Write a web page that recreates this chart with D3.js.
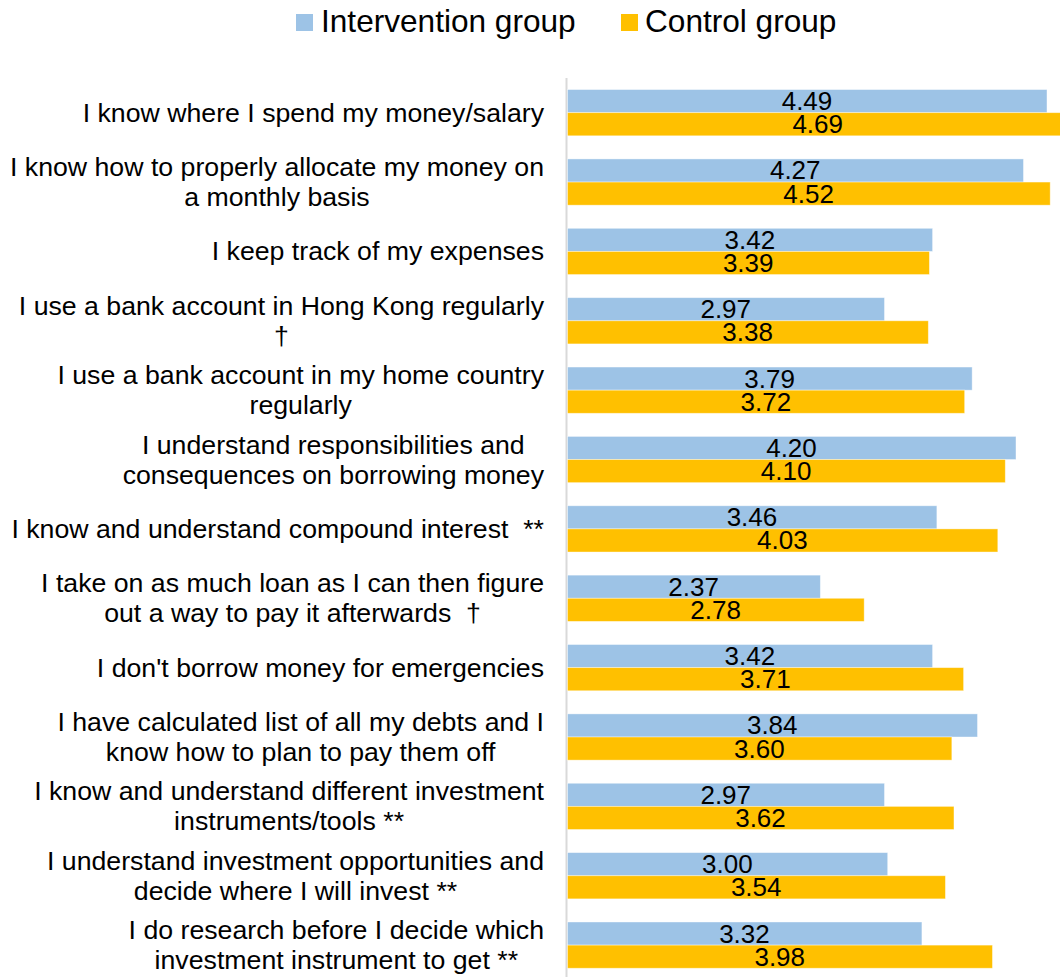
<!DOCTYPE html>
<html>
<head>
<meta charset="utf-8">
<script src="https://cdn.jsdelivr.net/npm/d3@7"></script>
<style>
  html, body { margin: 0; padding: 0; background: #fff; }
  svg { display: block; font-family: "Liberation Sans", Arial, sans-serif; }
  text { white-space: pre; }
</style>
</head>
<body>
<svg id="chart" width="1060" height="977"></svg>
<script>
// Survey statements (each entry holds the wrapped lines of the label)
const categories = [
  ["I know where I spend my money/salary"],
  ["I know how to properly allocate my money on", "a monthly basis"],
  ["I keep track of my expenses"],
  ["I use a bank account in Hong Kong regularly", "\u2020"],
  ["I use a bank account in my home country", "regularly"],
  ["I understand responsibilities and", "consequences on borrowing money"],
  ["I know and understand compound interest  **"],
  ["I take on as much loan as I can then figure", "out a way to pay it afterwards  \u2020"],
  ["I don't borrow money for emergencies"],
  ["I have calculated list of all my debts and I", "know how to plan to pay them off"],
  ["I know and understand different investment", "instruments/tools **"],
  ["I understand investment opportunities and", "decide where I will invest **"],
  ["I do research before I decide which", "investment instrument to get **"]
];

const seriesNames = ["Intervention group", "Control group"];
const seriesColors = ["#9DC3E6", "#FFC000"];

const interventionValues = [4.49, 4.27, 3.42, 2.97, 3.79, 4.20, 3.46, 2.37, 3.42, 3.84, 2.97, 3.00, 3.32];
const controlValues      = [4.69, 4.52, 3.39, 3.38, 3.72, 4.10, 4.03, 2.78, 3.71, 3.60, 3.62, 3.54, 3.98];

const svg = d3.select("#chart");

const keys = categories.map((c, i) => i);
const rows = keys.map(i => ({
  key: i,
  lines: categories[i],
  values: [interventionValues[i], controlValues[i]]
}));

// Scales
const x = d3.scaleLinear().domain([0, 5]).range([567, 567 + 5 * 106.9]);
const y = d3.scaleBand().domain(keys).range([78, 979.8]).paddingInner(1 / 3).paddingOuter(1 / 6);
const ySub = d3.scaleBand().domain([0, 1]).range([0, y.bandwidth()]);

// Category axis line
svg.append("line")
  .attr("x1", x(0) - 0.5).attr("x2", x(0) - 0.5)
  .attr("y1", 78).attr("y2", 977)
  .attr("stroke", "#d9d9d9").attr("stroke-width", 2);

// Bars
const groups = svg.append("g").selectAll("g")
  .data(rows).join("g")
  .attr("transform", d => `translate(0,${y(d.key)})`);

groups.selectAll("rect")
  .data(d => d.values.map((v, s) => ({ v, s })))
  .join("rect")
  .attr("x", x(0) + 0.5)
  .attr("y", d => ySub(d.s))
  .attr("width", d => x(d.v) - x(0) - 0.5)
  .attr("height", ySub.bandwidth())
  .attr("fill", d => seriesColors[d.s])
  .attr("stroke", "#ffffff").attr("stroke-opacity", 0.5).attr("stroke-width", 0.8);

// Value labels centred on each bar
groups.selectAll("text.val")
  .data(d => d.values.map((v, s) => ({ v, s })))
  .join("text")
  .attr("class", "val")
  .attr("x", d => (x(0) + x(d.v)) / 2)
  .attr("y", d => ySub(d.s) + ySub.bandwidth() / 2 + 9)
  .attr("text-anchor", "middle")
  .attr("font-size", 26)
  .attr("fill", "#000")
  .text(d => d.v.toFixed(2));

// Category labels: block right-aligned, lines centred within the block
const labelRight = 544;
const lineHeight = 30;
const labelG = svg.append("g");
rows.forEach(r => {
  const cy = y(r.key) + y.bandwidth() / 2;
  const n = r.lines.length;
  const texts = r.lines.map((line, j) =>
    labelG.append("text")
      .attr("font-size", 26.7)
      .attr("fill", "#000")
      .attr("text-anchor", "middle")
      .attr("y", cy + (j - (n - 1) / 2) * lineHeight + 9)
      .text(line)
  );
  const w = d3.max(texts, t => t.node().getComputedTextLength());
  texts.forEach(t => t.attr("x", labelRight - w / 2));
});

// Legend
const legend = svg.append("g");
const legendItems = [{ x: 296, tx: 321 }, { x: 621, tx: 645 }];
seriesNames.forEach((name, i) => {
  legend.append("rect")
    .attr("x", legendItems[i].x).attr("y", 14)
    .attr("width", 17).attr("height", 17)
    .attr("fill", seriesColors[i]);
  legend.append("text")
    .attr("x", legendItems[i].tx).attr("y", 32)
    .attr("font-size", 31.6)
    .attr("fill", "#000")
    .text(name);
});
</script>
</body>
</html>
